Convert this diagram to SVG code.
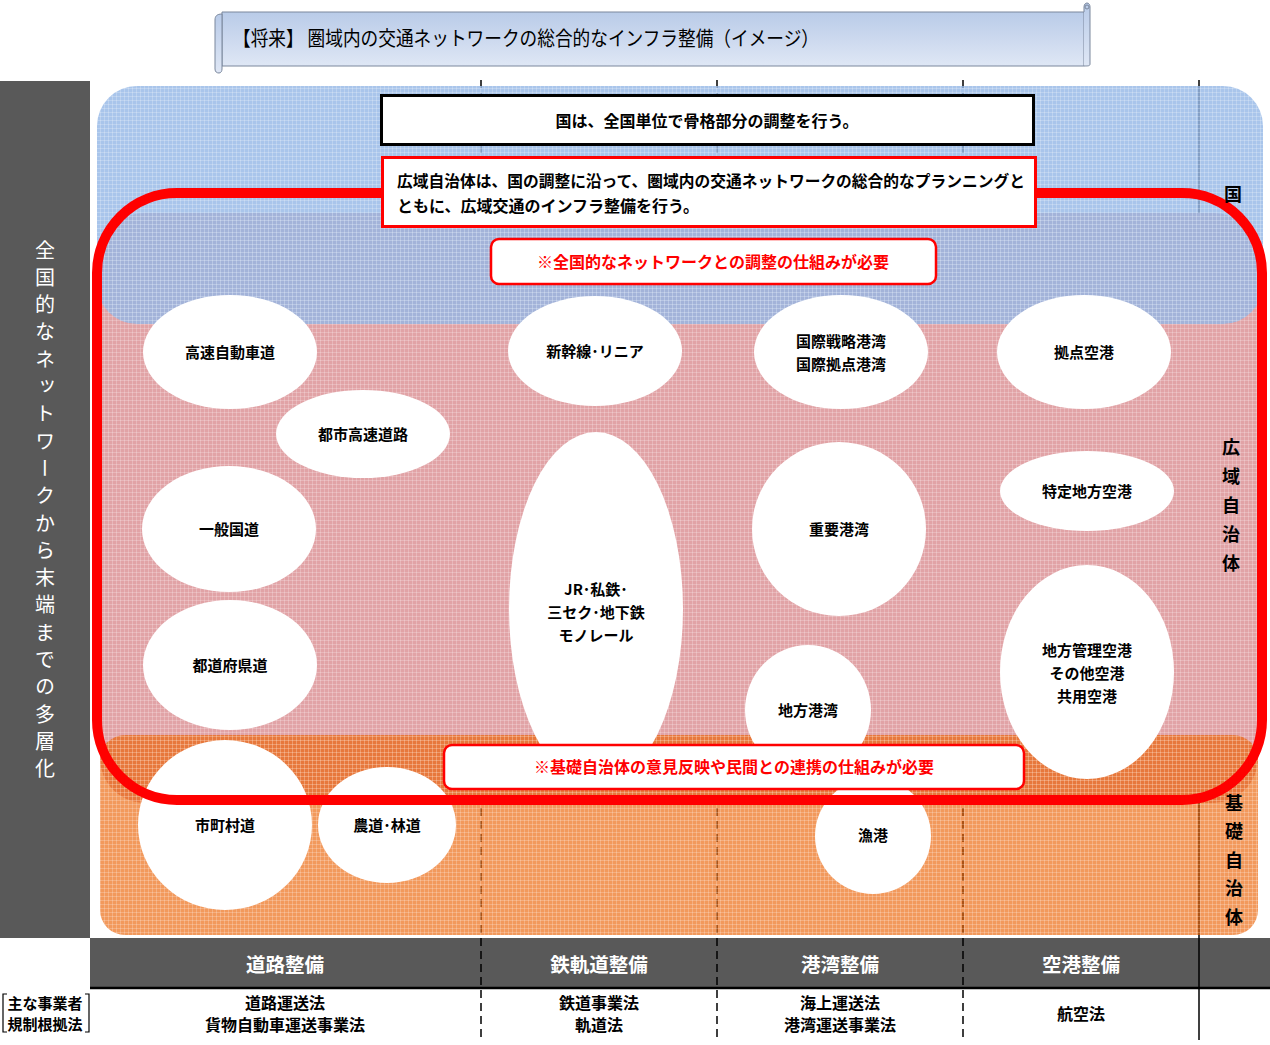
<svg xmlns="http://www.w3.org/2000/svg" width="1270" height="1045" viewBox="0 0 1270 1045">
<style>
.t{font-family:"Noto Sans CJK JP","Noto Sans",sans-serif;}
.b{font-weight:700;}
.el{fill:#ffffff;}
.lbl{font-family:"Noto Sans CJK JP",sans-serif;font-weight:700;font-size:15px;fill:#000;text-anchor:middle;}
.hdr{font-family:"Noto Sans CJK JP",sans-serif;font-weight:700;font-size:19.5px;fill:#fff;text-anchor:middle;}
.law{font-family:"Noto Sans CJK JP",sans-serif;font-weight:700;font-size:16px;fill:#000;text-anchor:middle;}
.vl{stroke:#000;stroke-width:1.5;stroke-dasharray:8 5;fill:none;}
</style>
<defs>
<linearGradient id="scroll" x1="0" y1="0" x2="0" y2="1">
<stop offset="0" stop-color="#b9cbe8"/>
<stop offset="1" stop-color="#dfe7f5"/>
</linearGradient>
<pattern id="grid" width="4" height="4" patternUnits="userSpaceOnUse">
<path d="M0 0.5H4M0.5 0V4" stroke="#ffffff" stroke-opacity="0.22" stroke-width="1"/>
</pattern>
</defs>

<!-- left panel and header bar -->
<g id="left-panel">
<rect x="0" y="81" width="90" height="857" fill="#595959"/>
<text class="t" x="45" y="240" style="writing-mode:vertical-rl;letter-spacing:7.3px" font-size="20" fill="#fff">全国的なネットワークから末端までの多層化</text>
</g>
<g id="header-bar">
<rect x="90" y="938" width="1180" height="49" fill="#595959"/>
<line x1="90" y1="988" x2="1270" y2="988" stroke="#000" stroke-width="2.5"/>
</g>

<!-- column separators -->
<g id="separators">
<line class="vl" x1="481" y1="80" x2="481" y2="1040"/>
<line class="vl" x1="717" y1="80" x2="717" y2="1040"/>
<line class="vl" x1="963" y1="80" x2="963" y2="1040"/>
<line x1="1199" y1="80" x2="1199" y2="1040" stroke="#000" stroke-width="1.5"/>
</g>

<!-- layers -->
<g id="layer-pink">
<rect x="100" y="213" width="1158" height="590" rx="45" fill="#e1a3a6"/>
<rect x="100" y="213" width="1158" height="590" rx="45" fill="url(#grid)"/>
</g>
<g id="layer-blue">
<rect x="97" y="86" width="1166" height="238" rx="40" fill="#94b6e6" fill-opacity="0.8"/>
<rect x="97" y="86" width="1166" height="238" rx="40" fill="url(#grid)"/>
</g>
<g id="layer-orange">
<rect x="100" y="735" width="1158" height="200" rx="25" fill="#ea6000" fill-opacity="0.64"/>
<rect x="100" y="735" width="1158" height="200" rx="25" fill="url(#grid)"/>
</g>

<!-- nodes -->
<g id="n-kosoku"><ellipse class="el" cx="230" cy="352" rx="87" ry="57"/><text class="lbl" x="230" y="358">高速自動車道</text></g>
<g id="n-toshikosoku"><ellipse class="el" cx="363" cy="434" rx="87" ry="44"/><text class="lbl" x="363" y="440">都市高速道路</text></g>
<g id="n-ippankokudo"><ellipse class="el" cx="229" cy="529" rx="87" ry="63"/><text class="lbl" x="229" y="535">一般国道</text></g>
<g id="n-todofuken"><ellipse class="el" cx="230" cy="665" rx="87" ry="65"/><text class="lbl" x="230" y="671">都道府県道</text></g>
<g id="n-shichoson"><ellipse class="el" cx="225" cy="825" rx="87" ry="85"/><text class="lbl" x="225" y="831">市町村道</text></g>
<g id="n-nodo"><ellipse class="el" cx="387" cy="825" rx="69" ry="58"/><text class="lbl" x="387" y="831">農道･林道</text></g>
<g id="n-shinkansen"><ellipse class="el" cx="595" cy="351" rx="87" ry="55"/><text class="lbl" x="595" y="357">新幹線･リニア</text></g>
<g id="n-jr"><ellipse class="el" cx="596" cy="609" rx="87" ry="177"/>
<text class="lbl" x="596" y="595">JR･私鉄･</text><text class="lbl" x="596" y="618">三セク･地下鉄</text><text class="lbl" x="596" y="641">モノレール</text></g>
<g id="n-kokusai"><ellipse class="el" cx="841" cy="352" rx="87" ry="57"/>
<text class="lbl" x="841" y="347">国際戦略港湾</text><text class="lbl" x="841" y="370">国際拠点港湾</text></g>
<g id="n-juyo"><ellipse class="el" cx="839" cy="529" rx="87" ry="87"/><text class="lbl" x="839" y="535">重要港湾</text></g>
<g id="n-chiho"><ellipse class="el" cx="808" cy="710" rx="63" ry="65"/><text class="lbl" x="808" y="716">地方港湾</text></g>
<g id="n-gyoko"><ellipse class="el" cx="873" cy="836" rx="58" ry="58"/><text class="lbl" x="873" y="841">漁港</text></g>
<g id="n-kyoten"><ellipse class="el" cx="1084" cy="352" rx="87" ry="57"/><text class="lbl" x="1084" y="358">拠点空港</text></g>
<g id="n-tokutei"><ellipse class="el" cx="1087" cy="491" rx="87" ry="40"/><text class="lbl" x="1087" y="497">特定地方空港</text></g>
<g id="n-chihokanri"><ellipse class="el" cx="1087" cy="672" rx="87" ry="107"/>
<text class="lbl" x="1087" y="656">地方管理空港</text><text class="lbl" x="1087" y="679">その他空港</text><text class="lbl" x="1087" y="702">共用空港</text></g>

<!-- wide-area government border -->
<g id="koiki-border">
<rect x="97" y="193" width="1165" height="607" rx="80" fill="none" stroke="#ff0000" stroke-width="10"/>
</g>

<!-- boxes -->
<g id="box-kuni">
<rect x="381.5" y="95.5" width="652" height="49" fill="#fff" stroke="#000" stroke-width="3"/>
<text class="t b" x="707" y="127" font-size="16" text-anchor="middle">国は、全国単位で骨格部分の調整を行う。</text>
</g>
<g id="box-koiki">
<rect x="382.5" y="157.5" width="653" height="69" fill="#fff" stroke="#ff0000" stroke-width="3"/>
<text class="t b" x="397" y="187" font-size="16" textLength="628" lengthAdjust="spacingAndGlyphs">広域自治体は、国の調整に沿って、圏域内の交通ネットワークの総合的なプランニングと</text>
<text class="t b" x="397" y="212" font-size="16">ともに、広域交通のインフラ整備を行う。</text>
</g>
<g id="box-note1">
<rect x="491" y="239" width="445" height="45" rx="8" fill="#fff" stroke="#ff0000" stroke-width="2.5"/>
<text class="t b" x="713" y="268" font-size="16" fill="#ff0000" text-anchor="middle">※全国的なネットワークとの調整の仕組みが必要</text>
</g>
<g id="box-note2">
<rect x="444" y="745" width="580" height="44" rx="8" fill="#fff" stroke="#ff0000" stroke-width="2.5"/>
<text class="t b" x="734" y="773" font-size="16" fill="#ff0000" text-anchor="middle">※基礎自治体の意見反映や民間との連携の仕組みが必要</text>
</g>

<!-- right labels -->
<g id="label-kuni"><text class="t b" x="1233" y="201" font-size="18" text-anchor="middle">国</text></g>
<g id="label-koiki"><text class="t b" x="1231" y="438" font-size="18" style="writing-mode:vertical-rl;letter-spacing:11px">広域自治体</text></g>
<g id="label-kiso"><text class="t b" x="1234" y="794" font-size="18" style="writing-mode:vertical-rl;letter-spacing:10.5px">基礎自治体</text></g>

<!-- title scroll -->
<g id="title">
<path d="M222,12 H1084 V66 H222 Z" fill="url(#scroll)" stroke="#7a879c" stroke-width="1"/>
<path d="M1084,12 V7 C1084,4 1086,3 1087,3 C1089,3 1090,5 1090,7 V64 C1090,66 1088,66 1084,66" fill="url(#scroll)" stroke="#7a879c" stroke-width="1"/>
<circle cx="1087" cy="7" r="2" fill="none" stroke="#7a879c" stroke-width="1"/>
<path d="M222,14 C217,14 215,16 215,20 V69 C215,72 217,73 219,73 C221,73 222,71 222,69 V14" fill="url(#scroll)" stroke="#7a879c" stroke-width="1"/>
<text class="t" x="233" y="46" font-size="20" textLength="586" lengthAdjust="spacingAndGlyphs">【将来】 圏域内の交通ネットワークの総合的なインフラ整備（イメージ）</text>
</g>

<!-- header texts -->
<g id="headers">
<text class="hdr" x="285" y="972">道路整備</text>
<text class="hdr" x="599" y="972">鉄軌道整備</text>
<text class="hdr" x="840" y="972">港湾整備</text>
<text class="hdr" x="1081" y="972">空港整備</text>
</g>

<!-- laws -->
<g id="laws">
<path d="M7,994 H3 V1032 H7 M85,994 H89 V1032 H85" fill="none" stroke="#000" stroke-width="1.2"/>
<text class="t b" x="45" y="1009" font-size="15" text-anchor="middle">主な事業者</text>
<text class="t b" x="45" y="1030" font-size="15" text-anchor="middle">規制根拠法</text>
<text class="law" x="285" y="1009">道路運送法</text>
<text class="law" x="285" y="1031">貨物自動車運送事業法</text>
<text class="law" x="599" y="1009">鉄道事業法</text>
<text class="law" x="599" y="1031">軌道法</text>
<text class="law" x="840" y="1009">海上運送法</text>
<text class="law" x="840" y="1031">港湾運送事業法</text>
<text class="law" x="1081" y="1020">航空法</text>
</g>
</svg>
